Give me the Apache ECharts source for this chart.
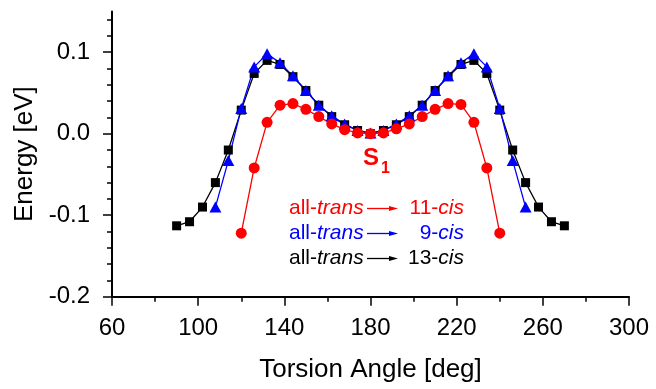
<!DOCTYPE html>
<html>
<head>
<meta charset="utf-8">
<script src="https://cdn.jsdelivr.net/npm/echarts@6/dist/echarts.min.js"></script>
<style>
  html, body { margin: 0; padding: 0; background: #fff; }
  #chart { width: 656px; height: 389px; }
</style>
</head>
<body>
<div id="chart"></div>
<script>
// Torsion scans of retinal in S1: energy relative to the 180° minimum.
const anglesTo13cis = [90, 96, 102, 108, 114, 120, 126, 132, 138, 144, 150, 156, 162, 168, 174, 180,
                       186, 192, 198, 204, 210, 216, 222, 228, 234, 240, 246, 252, 258, 264, 270];
const energyTo13cis = [-0.113, -0.108, -0.090, -0.060, -0.020, 0.029, 0.074, 0.090, 0.085, 0.070, 0.053,
                       0.035, 0.021, 0.011, 0.004, 0.000, 0.004, 0.011, 0.021, 0.035, 0.053, 0.070,
                       0.085, 0.090, 0.074, 0.029, -0.020, -0.060, -0.090, -0.108, -0.113];

const anglesTo9cis = [108, 114, 120, 126, 132, 138, 144, 150, 156, 162, 168, 174, 180,
                      186, 192, 198, 204, 210, 216, 222, 228, 234, 240, 246, 252];
const energyTo9cis = [-0.090, -0.033, 0.031, 0.082, 0.098, 0.087, 0.071, 0.053, 0.035, 0.022, 0.012,
                      0.004, 0.001, 0.004, 0.012, 0.022, 0.035, 0.053, 0.071, 0.087, 0.098, 0.082,
                      0.031, -0.033, -0.090];

const anglesTo11cis = [120, 126, 132, 138, 144, 150, 156, 162, 168, 174, 180,
                       186, 192, 198, 204, 210, 216, 222, 228, 234, 240];
const energyTo11cis = [-0.122, -0.042, 0.014, 0.035, 0.037, 0.030, 0.021, 0.012, 0.005, 0.001, 0.000,
                       0.001, 0.006, 0.012, 0.021, 0.030, 0.037, 0.036, 0.014, -0.042, -0.122];

// Axis ticks
const yMajorTicks = [-0.2, -0.1, 0.0, 0.1];
const yMinorTicks = [-0.18, -0.16, -0.14, -0.12, -0.08, -0.06, -0.04, -0.02,
                     0.02, 0.04, 0.06, 0.08, 0.12, 0.14];

// Legend rows: [target isomer, colour]
const legendRows = [
  ['11-cis', '#ff0000'],
  ['9-cis', '#0000ff'],
  ['13-cis', '#000000']
];

const pairs = (xs, ys) => xs.map((x, i) => [x, ys[i]]);
const FONT = '"Liberation Sans", Arial, Helvetica, sans-serif';

const graphics = [];
const rowY = [208.5, 233.5, 258.5];
legendRows.forEach((row, i) => {
  const [target, color] = row;
  const y = rowY[i];
  graphics.push({
    type: 'text',
    x: 289, y: y,
    style: {
      text: '{n|all-}{it|trans}',
      fill: color,
      textVerticalAlign: 'middle',
      rich: {
        n: { fontFamily: FONT, fontSize: 21, fill: color },
        it: { fontFamily: FONT, fontSize: 21, fontStyle: 'italic', fill: color }
      }
    }
  });
  graphics.push({
    type: 'line',
    shape: { x1: 367, y1: y, x2: 392, y2: y },
    style: { stroke: color, lineWidth: 1.3 }
  });
  graphics.push({
    type: 'polygon',
    shape: { points: [[389, y - 2.6], [398, y], [389, y + 2.6]] },
    style: { fill: color }
  });
  const num = target.split('-')[0];
  graphics.push({
    type: 'text',
    x: 464, y: y,
    style: {
      text: '{n|' + num + '-}{it|cis}',
      fill: color,
      textAlign: 'right',
      textVerticalAlign: 'middle',
      rich: {
        n: { fontFamily: FONT, fontSize: 21, fill: color },
        it: { fontFamily: FONT, fontSize: 21, fontStyle: 'italic', fill: color }
      }
    }
  });
});

// State label
graphics.push({
  type: 'text', x: 371, y: 158,
  style: { text: 'S', fill: '#ff0000', font: 'bold 24px ' + FONT, textAlign: 'center', textVerticalAlign: 'middle' }
});
graphics.push({
  type: 'text', x: 381, y: 168.5,
  style: { text: '1', fill: '#ff0000', font: 'bold 16px ' + FONT, textAlign: 'left', textVerticalAlign: 'middle' }
});

const chart = echarts.init(document.getElementById('chart'), null, { renderer: 'canvas' });

const axisLineStyle = { color: '#000', width: 2 };

chart.setOption({
  animation: false,
  backgroundColor: '#fff',
  textStyle: { fontFamily: FONT },
  grid: { left: 112, right: 27, top: 11.5, bottom: 92.3, containLabel: false },
  xAxis: {
    type: 'value',
    min: 60, max: 300, interval: 40,
    name: 'Torsion Angle [deg]',
    nameLocation: 'middle',
    nameGap: 60,
    nameTextStyle: { fontSize: 26, color: '#000', fontFamily: FONT },
    axisLine: { show: true, onZero: false, lineStyle: axisLineStyle },
    axisTick: { show: true, length: 9, lineStyle: { color: '#000', width: 1.5 } },
    minorTick: { show: true, splitNumber: 2, length: 5, lineStyle: { color: '#000', width: 1.5 } },
    splitLine: { show: false },
    axisLabel: { fontSize: 24, color: '#000', margin: 20, fontFamily: FONT }
  },
  yAxis: [
    {
      type: 'value',
      min: -0.2, max: 0.15,
      name: 'Energy [eV]',
      nameLocation: 'middle',
      nameGap: 72,
      nameTextStyle: { fontSize: 26, color: '#000', fontFamily: FONT },
      axisLine: { show: true, onZero: false, lineStyle: axisLineStyle },
      axisTick: { show: true, length: 9, customValues: yMajorTicks, lineStyle: { color: '#000', width: 1.5 } },
      splitLine: { show: false },
      axisLabel: {
        customValues: yMajorTicks,
        fontSize: 24, color: '#000', margin: 22, fontFamily: FONT,
        formatter: v => v.toFixed(1)
      }
    },
    {
      type: 'value',
      min: -0.2, max: 0.15,
      position: 'left',
      axisLine: { show: false },
      axisTick: { show: true, length: 5, customValues: yMinorTicks, lineStyle: { color: '#000', width: 1.5 } },
      axisLabel: { show: false },
      splitLine: { show: false }
    }
  ],
  series: [
    {
      name: 'all-trans → 13-cis', type: 'line',
      data: pairs(anglesTo13cis, energyTo13cis),
      symbol: 'rect', symbolSize: 9,
      lineStyle: { color: '#000', width: 1.3 },
      itemStyle: { color: '#000' }
    },
    {
      name: 'all-trans → 9-cis', type: 'line',
      data: pairs(anglesTo9cis, energyTo9cis),
      symbol: 'triangle', symbolSize: [12, 11],
      lineStyle: { color: '#0000ff', width: 1.3 },
      itemStyle: { color: '#0000ff' }
    },
    {
      name: 'all-trans → 11-cis', type: 'line',
      data: pairs(anglesTo11cis, energyTo11cis),
      symbol: 'circle', symbolSize: 11,
      lineStyle: { color: '#ff0000', width: 1.3 },
      itemStyle: { color: '#ff0000' }
    }
  ],
  graphic: graphics
});
</script>
</body>
</html>
